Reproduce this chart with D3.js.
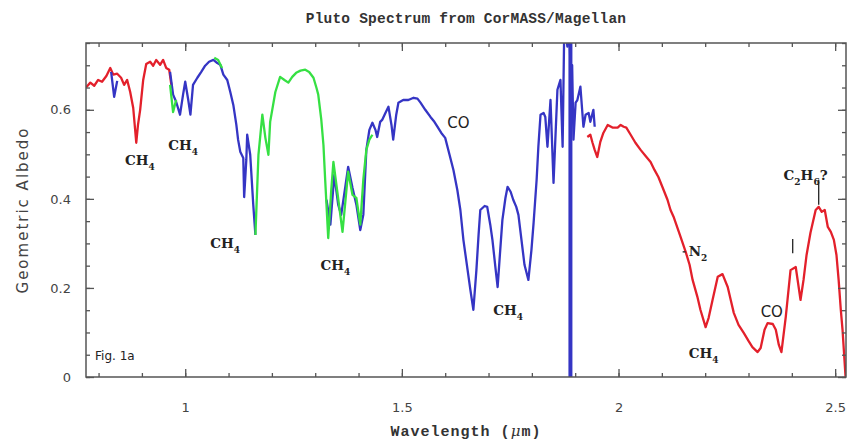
<!DOCTYPE html>
<html><head><meta charset="utf-8">
<script src="https://cdn.jsdelivr.net/npm/d3@7/dist/d3.min.js"></script>
<style>body{margin:0;background:#fff}</style>
</head><body>
<svg id="chart" width="851" height="443"></svg>
<script>
// ---- data (wavelength in micron, geometric albedo) ----
const redShort = [[0.771,0.650],[0.781,0.661],[0.790,0.654],[0.799,0.667],[0.808,0.663],[0.818,0.676],[0.827,0.694],[0.834,0.679],[0.843,0.681],[0.852,0.672],[0.859,0.656],[0.866,0.667],[0.873,0.640],[0.880,0.604],[0.887,0.526],[0.891,0.566],[0.896,0.600],[0.903,0.667],[0.910,0.703],[0.919,0.708],[0.926,0.699],[0.933,0.712],[0.942,0.701],[0.949,0.712],[0.956,0.694],[0.963,0.690],[0.968,0.656]];
const blueBlip = [[0.829,0.685],[0.836,0.629],[0.843,0.665]];
const greenBits1 = [[0.965,0.656],[0.972,0.595],[0.979,0.622]];
const greenBits2 = [[1.067,0.717],[1.076,0.712],[1.085,0.694]];
const blueShort = [[0.965,0.685],[0.972,0.634],[0.979,0.618],[0.988,0.589],[0.995,0.634],[1.000,0.663],[1.007,0.622],[1.012,0.589],[1.018,0.656],[1.028,0.672],[1.037,0.685],[1.046,0.699],[1.055,0.708],[1.065,0.712],[1.074,0.705],[1.081,0.701],[1.088,0.679],[1.097,0.667],[1.104,0.640],[1.111,0.611],[1.118,0.566],[1.122,0.533],[1.127,0.506],[1.134,0.492],[1.136,0.404],[1.141,0.488],[1.143,0.544],[1.150,0.499],[1.157,0.387],[1.162,0.319]];
const greenMid = [[1.162,0.319],[1.169,0.499],[1.178,0.589],[1.185,0.537],[1.192,0.499],[1.196,0.573],[1.208,0.640],[1.219,0.674],[1.229,0.667],[1.238,0.661],[1.247,0.674],[1.256,0.683],[1.266,0.688],[1.277,0.690],[1.286,0.685],[1.296,0.672],[1.303,0.649],[1.307,0.634],[1.314,0.578],[1.319,0.521],[1.323,0.443],[1.330,0.312],[1.337,0.420],[1.342,0.483],[1.351,0.416],[1.363,0.326],[1.370,0.398],[1.376,0.461],[1.386,0.409],[1.395,0.402],[1.404,0.342],[1.411,0.443],[1.418,0.510],[1.425,0.533],[1.432,0.544]];
const blueLong = [[1.326,0.398],[1.335,0.342],[1.344,0.454],[1.353,0.387],[1.360,0.364],[1.370,0.431],[1.376,0.472],[1.386,0.425],[1.395,0.387],[1.404,0.330],[1.411,0.364],[1.418,0.510],[1.425,0.555],[1.432,0.571],[1.439,0.555],[1.443,0.539],[1.450,0.573],[1.455,0.578],[1.462,0.593],[1.469,0.607],[1.476,0.566],[1.480,0.533],[1.487,0.589],[1.492,0.616],[1.503,0.622],[1.515,0.622],[1.527,0.627],[1.536,0.625],[1.543,0.616],[1.554,0.600],[1.566,0.584],[1.575,0.573],[1.582,0.562],[1.591,0.548],[1.600,0.537],[1.610,0.499],[1.619,0.465],[1.628,0.420],[1.635,0.375],[1.642,0.308],[1.651,0.245],[1.658,0.196],[1.665,0.151],[1.672,0.240],[1.677,0.319],[1.681,0.375],[1.691,0.384],[1.697,0.382],[1.704,0.342],[1.709,0.308],[1.716,0.245],[1.721,0.202],[1.727,0.285],[1.732,0.353],[1.739,0.402],[1.744,0.427],[1.751,0.416],[1.757,0.398],[1.764,0.382],[1.769,0.364],[1.776,0.308],[1.783,0.252],[1.792,0.218],[1.799,0.285],[1.804,0.346],[1.811,0.443],[1.815,0.517],[1.820,0.589],[1.827,0.593],[1.831,0.584],[1.836,0.517],[1.843,0.622],[1.850,0.436],[1.859,0.645],[1.866,0.667],[1.871,0.517],[1.875,0.800],[1.882,0.742],[1.886,0.800],[1.889,0.700],[1.893,0.700],[1.896,0.533],[1.901,0.616],[1.905,0.622],[1.912,0.652],[1.919,0.562],[1.924,0.589],[1.931,0.593],[1.935,0.573],[1.942,0.600],[1.945,0.562]];
const telluricGap = [[1.889,0.80],[1.889,-0.05]];
const redLong = [[1.928,0.539],[1.935,0.544],[1.940,0.526],[1.945,0.510],[1.951,0.494],[1.958,0.528],[1.965,0.548],[1.975,0.566],[1.986,0.560],[1.998,0.560],[2.005,0.566],[2.012,0.562],[2.018,0.560],[2.028,0.544],[2.039,0.526],[2.051,0.510],[2.062,0.497],[2.074,0.483],[2.083,0.465],[2.092,0.449],[2.102,0.425],[2.113,0.398],[2.120,0.375],[2.127,0.360],[2.136,0.335],[2.143,0.315],[2.155,0.281],[2.164,0.252],[2.171,0.218],[2.182,0.180],[2.189,0.151],[2.201,0.112],[2.208,0.133],[2.217,0.173],[2.229,0.225],[2.240,0.231],[2.252,0.202],[2.259,0.173],[2.266,0.144],[2.277,0.117],[2.289,0.099],[2.300,0.081],[2.309,0.067],[2.321,0.056],[2.328,0.065],[2.337,0.106],[2.344,0.121],[2.356,0.119],[2.363,0.106],[2.370,0.072],[2.376,0.056],[2.386,0.135],[2.397,0.240],[2.409,0.247],[2.420,0.173],[2.427,0.218],[2.434,0.274],[2.443,0.324],[2.455,0.375],[2.462,0.382],[2.469,0.371],[2.476,0.375],[2.483,0.337],[2.490,0.326],[2.497,0.308],[2.503,0.274],[2.508,0.218],[2.513,0.151],[2.517,0.106],[2.524,0.0]];

const xTicksMajor = [1, 1.5, 2, 2.5];
const yTicksMajor = [0, 0.2, 0.4, 0.6];
const labels = [
  {t:"CH", s:"4", wl:0.861, a:0.476, kind:"serif"},
  {t:"CH", s:"4", wl:0.961, a:0.510, kind:"serif"},
  {t:"CH", s:"4", wl:1.058, a:0.290, kind:"serif"},
  {t:"CH", s:"4", wl:1.312, a:0.240, kind:"serif"},
  {t:"CO", s:"",  wl:1.605, a:0.560, kind:"sans"},
  {t:"CH", s:"4", wl:1.711, a:0.139, kind:"serif"},
  {t:"N", s:"2",  wl:2.162, a:0.272, kind:"serif"},
  {t:"CH", s:"4", wl:2.162, a:0.043, kind:"serif"},
  {t:"CO", s:"",  wl:2.328, a:0.135, kind:"sans"},
  {t:"C", s:"2", t2:"H", s2:"6", t3:"?", wl:2.381, a:0.443, kind:"serif"},
  {t:"Fig. 1a", s:"", wl:0.792, a:0.038, kind:"sans2"}
];
const markers = [
  {wl:2.402, a0:0.278, a1:0.310},
  {wl:2.462, a0:0.387, a1:0.443},
  {wl2:2.155, wl:2.148, a0:0.281, a1:0.281}
];

// ---- layout ----
const W = 851, H = 443;
const m = {l:86, t:43, r:5, b:66};
const svg = d3.select("#chart");
const x = d3.scaleLinear().domain([0.771, 2.525]).range([m.l, W - m.r]);
const y = d3.scaleLinear().domain([0, 0.75]).range([H - m.b, m.t]);
const frameCol = "#555";

svg.append("defs").append("clipPath").attr("id","clip")
  .append("rect").attr("x",m.l).attr("y",m.t).attr("width",W-m.l-m.r).attr("height",H-m.t-m.b);

const line = d3.line().x(d => x(d[0])).y(d => y(d[1]));
const g = svg.append("g").attr("clip-path","url(#clip)");
const RED = "#e3202b", BLUE = "#3535c4", GREEN = "#36e043";
function draw(data, col, w) {
  g.append("path").datum(data).attr("d", line).attr("fill","none")
    .attr("stroke", col).attr("stroke-width", w || 2.3).attr("stroke-linejoin","round");
}
draw(redShort, RED);
draw(blueBlip, BLUE);
draw(blueShort, BLUE);
draw(greenBits1, GREEN);
draw(greenBits2, GREEN);
draw(blueLong, BLUE);
draw(telluricGap, BLUE, 4);
draw(greenMid, GREEN);
draw(redLong, RED);

// ---- axes ----
const xMinor = d3.range(0.8, 2.52, 0.1).map(v => +v.toFixed(2));
const yMinor = d3.range(0, 0.751, 0.05).map(v => +v.toFixed(2));
function axisStyle(sel) {
  sel.select(".domain").remove();
  sel.selectAll(".tick line").attr("stroke", frameCol).attr("stroke-width", 1.3);
  sel.selectAll("text").attr("fill","#444").style("font-family","'DejaVu Sans', sans-serif").style("font-size","13px");
}
svg.append("g").attr("transform",`translate(0,${H-m.b})`)
  .call(d3.axisBottom(x).tickValues(xMinor).tickSize(-4).tickFormat("")).call(axisStyle);
svg.append("g").attr("transform",`translate(0,${H-m.b})`)
  .call(d3.axisBottom(x).tickValues(xTicksMajor).tickSize(-8).tickPadding(26).tickFormat(d3.format("~g"))).call(axisStyle);
svg.append("g").attr("transform",`translate(0,${m.t})`)
  .call(d3.axisTop(x).tickValues(xMinor).tickSize(-4).tickFormat("")).call(axisStyle);
svg.append("g").attr("transform",`translate(0,${m.t})`)
  .call(d3.axisTop(x).tickValues(xTicksMajor).tickSize(-8).tickFormat("")).call(axisStyle);
svg.append("g").attr("transform",`translate(${m.l},0)`)
  .call(d3.axisLeft(y).tickValues(yMinor).tickSize(-4).tickFormat("")).call(axisStyle);
svg.append("g").attr("transform",`translate(${m.l},0)`)
  .call(d3.axisLeft(y).tickValues(yTicksMajor).tickSize(-8).tickPadding(15).tickFormat(d3.format("~g"))).call(axisStyle);
svg.append("g").attr("transform",`translate(${W-m.r},0)`)
  .call(d3.axisRight(y).tickValues(yMinor).tickSize(-4).tickFormat("")).call(axisStyle);
svg.append("g").attr("transform",`translate(${W-m.r},0)`)
  .call(d3.axisRight(y).tickValues(yTicksMajor).tickSize(-8).tickFormat("")).call(axisStyle);

svg.append("rect").attr("x",m.l).attr("y",m.t).attr("width",W-m.l-m.r).attr("height",H-m.t-m.b)
  .attr("fill","none").attr("stroke",frameCol).attr("stroke-width",1.5);

// ---- titles ----
const titleFont = "'Liberation Mono', monospace";
svg.append("text").attr("x",(m.l+W-m.r)/2).attr("y",23).attr("text-anchor","middle")
  .style("font-family",titleFont).style("font-weight","bold").style("font-size","14.5px").style("letter-spacing","0.2px")
  .attr("fill","#333").text("Pluto Spectrum from CorMASS/Magellan");
const xl = svg.append("text").attr("x",(m.l+W-m.r)/2).attr("y",436).attr("text-anchor","middle")
  .style("font-family",titleFont).style("font-weight","bold").style("font-size","15px").style("letter-spacing","1px")
  .attr("fill","#333");
xl.append("tspan").text("Wavelength (");
xl.append("tspan").style("font-family","'DejaVu Serif', serif").style("font-style","italic").style("font-weight","normal").text("\u03BC");
xl.append("tspan").text("m)");
svg.append("text").attr("transform",`translate(28,${(m.t+H-m.b)/2}) rotate(-90)`).attr("text-anchor","middle")
  .style("font-family","'DejaVu Sans', sans-serif").style("font-size","15px").style("letter-spacing","2px")
  .attr("fill","#444").text("Geometric Albedo");

// ---- annotations ----
const fonts = {serif:"'DejaVu Serif', serif", sans:"'DejaVu Sans', sans-serif", sans2:"'DejaVu Sans', sans-serif"};
labels.forEach(L => {
  const t = svg.append("text").attr("x", x(L.wl)).attr("y", y(L.a)).attr("fill","#222")
    .style("font-family", fonts[L.kind]).style("font-size", L.kind==="serif" ? "13.5px" : (L.kind==="sans" ? "15px" : "12px"))
    .style("font-weight", L.kind==="serif" ? "bold" : "normal");
  t.append("tspan").text(L.t);
  if (L.s) t.append("tspan").attr("dy",5).style("font-size","9px").text(L.s);
  if (L.t2) t.append("tspan").attr("dy",-5).text(L.t2);
  if (L.s2) t.append("tspan").attr("dy",5).style("font-size","9px").text(L.s2);
  if (L.t3) t.append("tspan").attr("dy",-5).text(L.t3);
});
markers.forEach(M => {
  svg.append("line").attr("x1", x(M.wl)).attr("x2", x(M.wl2 || M.wl))
    .attr("y1", y(M.a0)).attr("y2", y(M.a1)).attr("stroke","#222").attr("stroke-width",1.3);
});
</script>
</body></html>
